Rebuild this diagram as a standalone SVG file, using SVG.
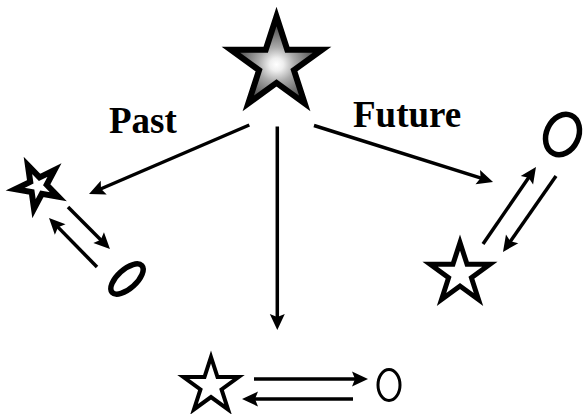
<svg xmlns="http://www.w3.org/2000/svg" xmlns:xlink="http://www.w3.org/1999/xlink" width="585" height="414" viewBox="0 0 585 414">
  <style>
    .conn { stroke: #000; stroke-width: 3.5; fill: none; marker-end: url(#arrow); }
    .ring { fill: none; stroke: #000; }
    .star { fill: #fff; stroke: #000; stroke-linejoin: miter; stroke-miterlimit: 10; }
    .label { font-family: "Liberation Serif", "Times New Roman", serif; font-weight: bold; font-size: 37px; fill: #000; }
  </style>
  <defs>
    <polygon id="starShape" points="0,-100 22.45,-30.9 95.11,-30.9 36.33,11.8 58.78,80.9 0,38.2 -58.78,80.9 -36.33,11.8 -95.11,-30.9 -22.45,-30.9"/>
    <radialGradient id="starGrad" cx="0.5" cy="0.553" r="0.5">
      <stop offset="0" stop-color="#ffffff"/>
      <stop offset="0.15" stop-color="#eeeeee"/>
      <stop offset="0.4" stop-color="#aaaaaa"/>
      <stop offset="0.7" stop-color="#707070"/>
      <stop offset="1" stop-color="#3a3a3a"/>
    </radialGradient>
    <marker id="arrow" markerUnits="userSpaceOnUse" viewBox="0 -10 20 20" markerWidth="20" markerHeight="20" refX="6" refY="0" orient="auto" overflow="visible">
      <path d="M0,-7.5 L16,0 L0,7.5 L3,0 Z" fill="#000"/>
    </marker>
  </defs>

  <g id="center-star">
    <use xlink:href="#starShape" href="#starShape" transform="translate(276.5,64.5) scale(0.48)" fill="url(#starGrad)" stroke="#000" stroke-width="12.5" stroke-linejoin="miter" stroke-miterlimit="10"/>
  </g>

  <g id="label-past">
    <text class="label" x="109" y="133">Past</text>
  </g>
  <g id="label-future">
    <text class="label" x="353" y="127">Future</text>
  </g>

  <g id="past-star">
    <use xlink:href="#starShape" href="#starShape" class="star" transform="translate(38,186) rotate(-26) scale(0.23)" stroke-width="26"/>
  </g>
  <g id="past-ring">
    <ellipse class="ring" cx="127" cy="279" rx="20" ry="9.5" stroke-width="5.5" transform="rotate(-42 127 279)"/>
  </g>

  <g id="future-ring">
    <ellipse class="ring" cx="562.5" cy="134.5" rx="16" ry="21" stroke-width="5.5" transform="rotate(25 562.5 134.5)"/>
  </g>
  <g id="future-star">
    <use xlink:href="#starShape" href="#starShape" class="star" transform="translate(460,274) scale(0.314)" stroke-width="15.9"/>
  </g>

  <g id="present-star">
    <use xlink:href="#starShape" href="#starShape" class="star" transform="translate(211,386) scale(0.29)" stroke-width="13.8"/>
  </g>
  <g id="present-ring">
    <ellipse class="ring" cx="389" cy="385" rx="11" ry="15.5" stroke-width="3"/>
  </g>

  <g id="connectors">
    <line class="conn" x1="249.3" y1="125" x2="98.2" y2="190"/>
    <line class="conn" x1="314" y1="125.5" x2="483.5" y2="178.9"/>
    <line class="conn" x1="277.3" y1="126.5" x2="277.3" y2="320"/>
    <line class="conn" x1="68" y1="207" x2="102.9" y2="241.9"/>
    <line class="conn" x1="97" y1="267" x2="56" y2="225.1"/>
    <line class="conn" x1="483" y1="244" x2="530.3" y2="175.2"/>
    <line class="conn" x1="556" y1="176" x2="508.7" y2="243.8"/>
    <line class="conn" x1="254" y1="379" x2="358" y2="379"/>
    <line class="conn" x1="353" y1="399" x2="252" y2="399"/>
  </g>
</svg>
